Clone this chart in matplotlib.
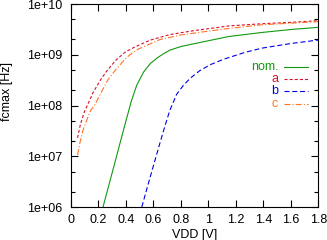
#!/usr/bin/env python
import matplotlib
matplotlib.use("Agg")
import matplotlib.pyplot as plt
from matplotlib.ticker import LogLocator, FixedLocator, NullFormatter

plt.rcParams['font.family'] = ['Liberation Sans', 'DejaVu Sans']
plt.rcParams['font.size'] = 9
plt.rcParams['lines.scale_dashes'] = False

# nominal corner
vdd_nom = [0.235, 0.30, 0.35, 0.40, 0.44, 0.48, 0.53, 0.58, 0.63, 0.68, 0.72,
           0.80, 0.91, 1.15, 1.39, 1.61, 1.80]
f_nom = [1.0e6, 4.57e6, 1.48e7, 4.79e7, 1.2e8, 2.51e8, 4.57e8, 6.76e8, 8.71e8,
         1.07e9, 1.23e9, 1.45e9, 1.68e9, 2.29e9, 2.75e9, 3.16e9, 3.47e9]

# corner a
vdd_a = [0.05, 0.07, 0.10, 0.14, 0.16, 0.22, 0.26, 0.33, 0.40, 0.45, 0.48, 0.58,
         0.72, 0.90, 1.15, 1.40, 1.60, 1.80]
f_a = [2.3e7, 4.2e7, 7.6e7, 1.3e8, 1.75e8, 3.3e8, 4.7e8, 7.9e8, 1.15e9, 1.35e9,
       1.48e9, 1.95e9, 2.5e9, 3.0e9, 3.7e9, 4.1e9, 4.35e9, 4.7e9]

# corner b
vdd_b = [0.517, 0.56, 0.60, 0.64, 0.68, 0.72, 0.77, 0.82, 0.87, 0.94, 1.02,
         1.11, 1.27, 1.39, 1.61, 1.80]
f_b = [1.0e6, 2.63e6, 6.31e6, 1.51e7, 3.55e7, 7.94e7, 1.66e8, 2.51e8, 3.47e8,
       4.9e8, 6.46e8, 8.13e8, 1.12e9, 1.35e9, 1.68e9, 1.95e9]

# corner c
vdd_c = [0.05, 0.066, 0.09, 0.126, 0.146, 0.17, 0.186, 0.21, 0.27, 0.33, 0.39,
         0.43, 0.49, 0.65, 0.80, 0.93, 1.15, 1.39, 1.61, 1.80]
f_c = [1.05e7, 1.8e7, 3.3e7, 6.0e7, 8.1e7, 9.8e7, 1.17e8, 1.58e8, 3.2e8, 5.2e8,
       7.9e8, 1.0e9, 1.29e9, 2.0e9, 2.45e9, 2.75e9, 3.3e9, 3.9e9, 4.2e9, 4.5e9]

col_nom = '#109a10'
col_a = '#d8102c'
col_b = '#0000e8'
col_c = '#ff7420'

fig = plt.figure(figsize=(3.27, 2.40), dpi=100)
ax = fig.add_axes([0.2162, 0.1375, 0.7572, 0.8458])

lw = 0.8
ax.plot(vdd_nom, f_nom, color=col_nom, lw=lw, ls='-')
ax.plot(vdd_a, f_a, color=col_a, lw=lw, ls=(0, (2.2, 1.5)))
ax.plot(vdd_b, f_b, color=col_b, lw=lw, ls=(0, (3.6, 2.0)))
ax.plot(vdd_c, f_c, color=col_c, lw=lw, ls=(0, (4.3, 1.5, 0.8, 1.5)))

ax.set_yscale('log')
ax.set_xlim(0, 1.8)
ax.set_ylim(1e6, 1e10)
ax.xaxis.set_major_locator(FixedLocator([0, 0.2, 0.4, 0.6, 0.8, 1.0, 1.2, 1.4, 1.6, 1.8]))
ax.set_xticklabels(['0', '0.2', '0.4', '0.6', '0.8', '1', '1.2', '1.4', '1.6', '1.8'])
ax.yaxis.set_major_locator(LogLocator(base=10, numticks=10))
ax.yaxis.set_minor_locator(LogLocator(base=10, subs=(2.0, 5.0), numticks=10))
ax.yaxis.set_minor_formatter(NullFormatter())
ax.set_yticks([1e6, 1e7, 1e8, 1e9, 1e10])
ax.set_yticklabels(['1e+06', '1e+07', '1e+08', '1e+09', '1e+10'])

ax.tick_params(which='both', direction='in', top=True, right=True, width=0.8)
ax.tick_params(which='major', length=5)
ax.tick_params(which='minor', length=3)
ax.tick_params(axis='y', pad=6)
ax.tick_params(axis='x', pad=5)
for s in ax.spines.values():
    s.set_linewidth(0.8)

ax.set_xlabel('VDD [V]', labelpad=2)
ax.set_ylabel('fcmax [Hz]')
ax.yaxis.set_label_coords(-0.234, 0.567)

# key, gnuplot style: right aligned labels, samples on the right
labels = ['nom.', 'a', 'b', 'c']
cols = [col_nom, col_a, col_b, col_c]
styles = ['-', (0, (2.2, 1.5)), (0, (3.6, 2.0)), (0, (4.3, 1.5, 0.8, 1.5))]
key_y = [0.690, 0.631, 0.569, 0.507]
for lab, c, st, yk in zip(labels, cols, styles, key_y):
    ax.text(0.838, yk, lab, color=c, ha='right', va='center', transform=ax.transAxes)
    ax.plot([0.861, 0.957], [yk, yk], color=c, lw=lw, ls=st, transform=ax.transAxes)

fig.savefig('out.png', dpi=100)
